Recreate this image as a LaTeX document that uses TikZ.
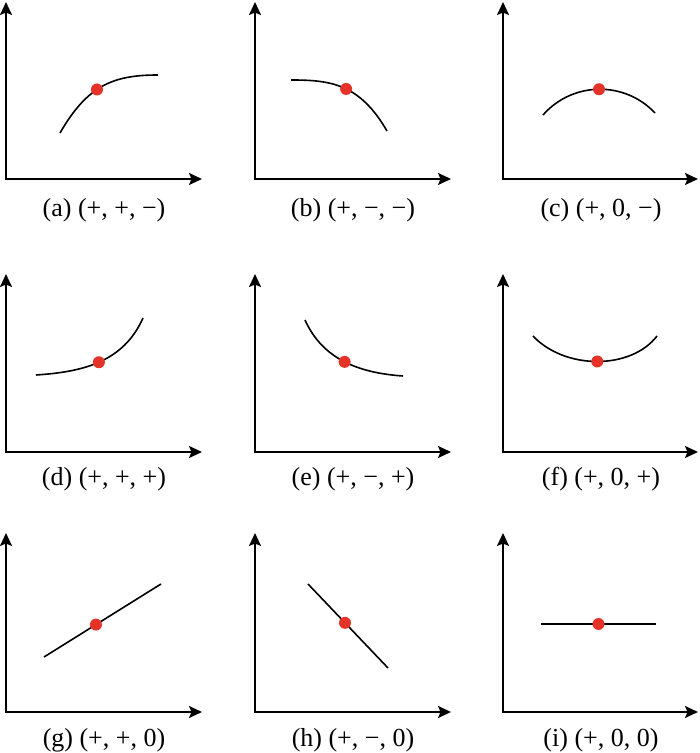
\documentclass[tikz,border=0pt]{standalone}
\usepackage{fontspec}
\setmainfont{Liberation Serif}
\usepackage{xcolor}
\usetikzlibrary{arrows.meta}
\definecolor{ptred}{HTML}{E5332A}

\begin{document}
\begin{tikzpicture}[x=1pt,y=1pt,>={Stealth[length=13pt,width=12pt,inset=2.5pt]},
  axis/.style={<->,line width=1.9pt},
  curve/.style={line width=1.6pt},
  dot/.style={circle,fill=ptred,inner sep=0pt,minimum size=12pt},
  lbl/.style={font=\fontsize{26}{30}\selectfont}]
\useasboundingbox (0,0) rectangle (700,753);
% row 1: concave
\begin{scope}[shift={(6,574)}]
\draw[axis] (0,177) -- (0,0) -- (196,0);
\draw[curve] (54,46) .. controls (81.5,93.6) and (107,104) .. (152,104) node[dot,pos=0.44] (pa) {};
\node[lbl] (la) at (98,-31) {(a) (+, +, −)};
\end{scope}
\begin{scope}[shift={(255,574)}]
\draw[axis] (0,177) -- (0,0) -- (196,0);
\draw[curve] (36,99) .. controls (75,99) and (104.5,95.6) .. (132,48) node[dot,pos=0.53] (pb) {};
\node[lbl] (lb) at (98,-31) {(b) (+, −, −)};
\end{scope}
\begin{scope}[shift={(503,574)}]
\draw[axis] (0,177) -- (0,0) -- (195,0);
\draw[curve] (40,64) .. controls (70,98) and (122,98) .. (152,66) node[dot,pos=0.5] (pc) {};
\node[lbl] (lc) at (98,-31) {(c) (+, 0, −)};
\end{scope}
% row 2: convex
\begin{scope}[shift={(6,301)}]
\draw[axis] (0,178) -- (0,0) -- (196,0);
\draw[curve] (30,77) .. controls (75,80) and (117,89) .. (137,134) node[dot,pos=0.5] (pd) {};
\node[lbl] (ld) at (98,-27) {(d) (+, +, +)};
\end{scope}
\begin{scope}[shift={(255,301)}]
\draw[axis] (0,178) -- (0,0) -- (196,0);
\draw[curve] (50,132) .. controls (68,92) and (105,79) .. (148,76) node[dot,pos=0.5] (pe) {};
\node[lbl] (le) at (98,-27) {(e) (+, −, +)};
\end{scope}
\begin{scope}[shift={(503,301)}]
\draw[axis] (0,178) -- (0,0) -- (195,0);
\draw[curve] (30,116) .. controls (62,82) and (128,82) .. (154,116) node[dot,pos=0.5] (pf) {};
\node[lbl] (lf) at (98,-27) {(f) (+, 0, +)};
\end{scope}
% row 3: straight
\begin{scope}[shift={(6,41)}]
\draw[axis] (0,179) -- (0,0) -- (196,0);
\draw[curve] (38,55) -- (155,128) node[dot,pos=0.444] (pg) {};
\node[lbl] (lg) at (98,-28) {(g) (+, +, 0)};
\end{scope}
\begin{scope}[shift={(255,41)}]
\draw[axis] (0,179) -- (0,0) -- (196,0);
\draw[curve] (53,128) -- (133,44) node[dot,pos=0.4625] (ph) {};
\node[lbl] (lh) at (98,-28) {(h) (+, −, 0)};
\end{scope}
\begin{scope}[shift={(503,41)}]
\draw[axis] (0,179) -- (0,0) -- (195,0);
\draw[curve] (38,88) -- (153,88) node[dot,pos=0.5] (pi) {};
\node[lbl] (li) at (98,-28) {(i) (+, 0, 0)};
\end{scope}
\end{tikzpicture}
\end{document}
